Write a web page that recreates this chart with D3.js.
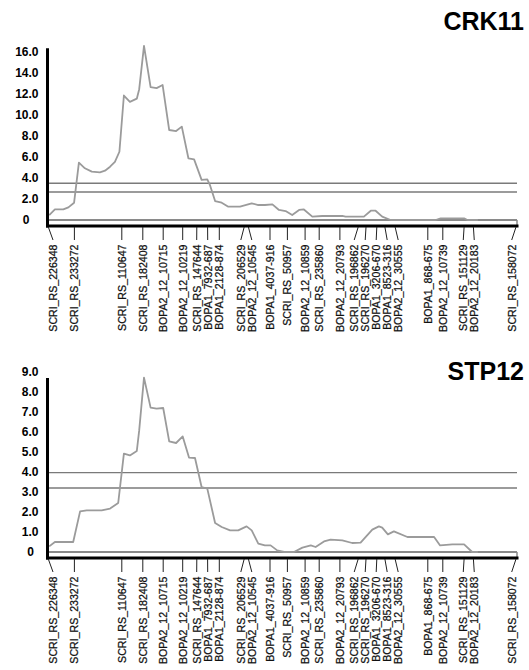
<!DOCTYPE html>
<html>
<head>
<meta charset="utf-8">
<script src="https://cdn.jsdelivr.net/npm/d3@7"></script>
<style>
  html, body { margin: 0; padding: 0; background: #fff; }
  svg { display: block; font-family: "Liberation Sans", Arial, Helvetica, sans-serif; }
</style>
</head>
<body>
<svg id="chart" width="529" height="670"></svg>
<script>
// Marker map of the chromosome (names and positions in cM)
const markerNames = [
  "SCRI_RS_226348", "SCRI_RS_233272", "SCRI_RS_110647", "SCRI_RS_182408",
  "BOPA2_12_10715", "BOPA2_12_10219", "SCRI_RS_147644", "BOPA1_7932-687",
  "BOPA1_2128-874", "SCRI_RS_206529", "BOPA2_12_10545", "BOPA1_4037-916",
  "SCRI_RS_50957", "BOPA2_12_10859", "SCRI_RS_235860", "BOPA2_12_20793",
  "SCRI_RS_196862", "SCRI_RS_196270", "BOPA1_3206-670", "BOPA1_8523-316",
  "BOPA2_12_30555", "BOPA1_868-675", "BOPA2_12_10739", "SCRI_RS_151129",
  "BOPA2_12_20183", "SCRI_RS_158072"
];
const markerCM = [
  0, 8.7, 24.5, 31.5, 38.3, 44.8, 49.5, 53.1, 57.0, 65.3, 66.7, 73.9, 79.7,
  85.6, 90.3, 97.2, 103.3, 105.9, 109.5, 112.2, 115.6, 126.5, 131.5, 138.6,
  141.7, 155.9
];

// LOD profile, trait CRK11
const crk11CM = [
  0.3, 2.2, 5.0, 6.7, 8.6, 10.2, 12.2, 14.5, 17.2, 18.9, 20.6, 22.2, 23.7,
  25.2, 27.2, 29.5, 30.3, 31.9, 34.1, 36.1, 38.1, 40.3, 42.6, 44.5, 46.7,
  48.6, 51.1, 53.0, 53.9, 55.6, 57.8, 60.0, 63.9, 67.8, 70.0, 72.2, 74.7,
  76.9, 79.1, 81.3, 83.6, 85.2, 88.0, 91.3, 98.0, 99.1, 105.2, 107.5, 109.1,
  111.3, 114.1, 129.1, 130.8, 138.6, 139.7, 143.2
];
const crk11LOD = [
  0.47, 1.0, 1.0, 1.2, 1.64, 5.43, 4.9, 4.58, 4.52, 4.67, 5.05, 5.5, 6.47,
  11.8, 11.2, 11.5, 12.4, 16.5, 12.6, 12.5, 12.8, 8.53, 8.43, 8.85, 5.85,
  5.75, 3.8, 3.85, 3.3, 1.8, 1.64, 1.26, 1.26, 1.58, 1.42, 1.42, 1.48,
  0.95, 0.85, 0.47, 0.95, 1.0, 0.32, 0.38, 0.38, 0.32, 0.32, 0.88, 0.88,
  0.32, 0, 0, 0.15, 0.15, 0, 0
];

// LOD profile, trait STP12
const stp12CM = [
  0.3, 2.2, 8.3, 10.6, 12.8, 17.8, 20.6, 23.3, 25.2, 27.2, 29.5, 30.3, 31.9,
  34.1, 36.1, 38.3, 40.3, 42.6, 44.8, 46.9, 48.9, 51.1, 53.0, 55.6, 57.8,
  60.6, 63.3, 66.1, 67.8, 70.0, 72.2, 74.1, 76.3, 78.6, 81.9, 84.7, 87.5,
  89.1, 91.9, 94.1, 98.0, 101.3, 104.1, 108.0, 110.2, 111.3, 113.2, 115.2,
  119.7, 128.6, 130.6, 134.7, 138.6, 141.3, 143.2
];
const stp12LOD = [
  0.28, 0.5, 0.5, 2.03, 2.08, 2.08, 2.17, 2.45, 4.92, 4.83, 5.05, 6.08, 8.72,
  7.22, 7.17, 7.2, 5.53, 5.45, 5.78, 4.72, 4.7, 3.25, 3.17, 1.45, 1.25,
  1.08, 1.08, 1.28, 1.08, 0.42, 0.33, 0.33, 0.08, 0, 0, 0.22, 0.33,
  0.25, 0.53, 0.62, 0.58, 0.45, 0.47, 1.12, 1.28, 1.22, 0.88, 1.03,
  0.75, 0.75, 0.33, 0.38, 0.38, 0, 0
];

// Axis ticks and significance thresholds
const crk11Ticks = [0, 2, 4, 6, 8, 10, 12, 14, 16];
const stp12Ticks = [0, 1, 2, 3, 4, 5, 6, 7, 8, 9];
const crk11Thresholds = [3.48, 2.65];
const stp12Thresholds = [3.97, 3.2];

const svg = d3.select("#chart");

const x = d3.scaleLinear().domain([0, 156]).range([48.3, 516.3]);

// Spread marker labels so neighbouring names do not overlap
function spreadLabels(px, gap, lo, hi) {
  const out = px.slice();
  for (let iter = 0; iter < 200; iter++) {
    let moved = false;
    for (let i = 1; i < out.length; i++) {
      const d = out[i] - out[i - 1];
      if (d < gap - 0.01) {
        const shift = (gap - d) / 2;
        out[i - 1] -= shift;
        out[i] += shift;
        moved = true;
      }
    }
    out[0] = Math.max(out[0], lo);
    out[out.length - 1] = Math.min(out[out.length - 1], hi);
    if (!moved) break;
  }
  return out;
}

function drawPanel(cfg) {
  const g = svg.append("g");
  const y = d3.scaleLinear().domain([0, cfg.yMax]).range([cfg.y0, cfg.y0 - cfg.yMax * cfg.unit]);
  const barBottom = cfg.y0 + 6;

  // title
  g.append("text")
    .attr("x", 524).attr("y", cfg.titleY)
    .attr("text-anchor", "end")
    .attr("font-size", 25).attr("font-weight", "bold")
    .attr("fill", "#000")
    .text(cfg.title);

  // y labels
  const yAxis = d3.axisLeft(y)
    .tickValues(cfg.ticks)
    .tickSize(0)
    .tickPadding(0)
    .tickFormat(d => d === 0 ? "0" : d.toFixed(1));
  const ya = g.append("g").attr("transform", "translate(38.5,0)").call(yAxis);
  ya.select(".domain").remove();
  ya.selectAll("text")
    .attr("font-size", 12).attr("font-weight", "bold")
    .attr("font-family", "'Liberation Sans', Arial, sans-serif")
    .attr("fill", "#000");
  ya.selectAll(".tick").filter(d => d === 0).select("text").attr("x", cfg.zeroDx);

  // threshold lines
  g.selectAll("line.thr").data(cfg.thresholds).enter().append("line")
    .attr("x1", 48).attr("x2", 517)
    .attr("y1", d => y(d)).attr("y2", d => y(d))
    .attr("stroke", "#7a7a7a").attr("stroke-width", 1.4);

  // chromosome bar (zero line + end cap)
  g.append("line")
    .attr("x1", 48).attr("x2", 517).attr("y1", y(0)).attr("y2", y(0))
    .attr("stroke", "#8a8a8a").attr("stroke-width", 2);
  g.append("line")
    .attr("x1", 517).attr("x2", 517).attr("y1", y(0)).attr("y2", barBottom)
    .attr("stroke", "#8a8a8a").attr("stroke-width", 1.5);

  // LOD profile
  const pts = cfg.pos.map((p, i) => [p, cfg.lod[i]]);
  g.append("path")
    .datum(pts)
    .attr("fill", "none")
    .attr("stroke", "#9b9b9b")
    .attr("stroke-width", 1.8)
    .attr("stroke-linejoin", "round")
    .attr("d", d3.line().x(d => x(d[0])).y(d => y(d[1])));

  // axes lines
  g.append("line")
    .attr("x1", 47.5).attr("x2", 47.5).attr("y1", y(cfg.axisTop)).attr("y2", barBottom + 1.5)
    .attr("stroke", "#000").attr("stroke-width", 3);
  g.append("line")
    .attr("x1", 46).attr("x2", 518.5).attr("y1", barBottom).attr("y2", barBottom)
    .attr("stroke", "#000").attr("stroke-width", 3);

  // marker ticks and labels
  const mpx = markerCM.map(m => x(m));
  const lpx = spreadLabels(mpx, 11, 53, 511.7);
  const tickTop = barBottom + 1;
  const tickBot = barBottom + 14;
  const labelTop = barBottom + 18.5;
  const mk = g.append("g");
  markerNames.forEach((name, i) => {
    mk.append("line")
      .attr("x1", mpx[i]).attr("y1", tickTop)
      .attr("x2", lpx[i]).attr("y2", tickBot)
      .attr("stroke", "#222").attr("stroke-width", 1);
    mk.append("text")
      .attr("transform", `translate(${lpx[i]},${labelTop}) rotate(-90)`)
      .attr("text-anchor", "end")
      .attr("dy", "0.36em")
      .attr("font-size", 10.6)
      .attr("fill", "#111")
      .attr("stroke", "#111")
      .attr("stroke-width", 0.25)
      .text(name);
  });
}

drawPanel({
  title: "CRK11", titleY: 30,
  pos: crk11CM, lod: crk11LOD,
  ticks: crk11Ticks, thresholds: crk11Thresholds,
  y0: 220, unit: 10.55, yMax: 16, axisTop: 16.28, zeroDx: -9
});

drawPanel({
  title: "STP12", titleY: 380,
  pos: stp12CM, lod: stp12LOD,
  ticks: stp12Ticks, thresholds: stp12Thresholds,
  y0: 552, unit: 20, yMax: 9, axisTop: 8.7, zeroDx: -4.5
});
</script>
</body>
</html>
